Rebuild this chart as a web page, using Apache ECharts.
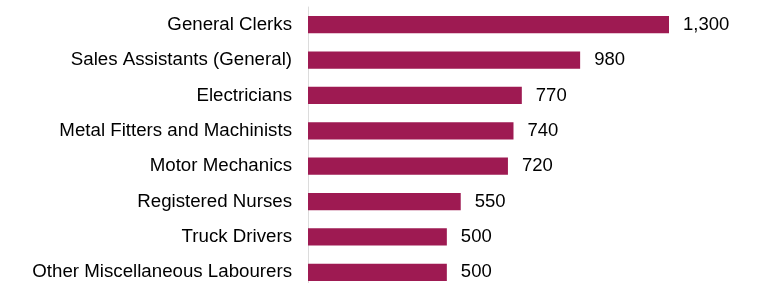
<!DOCTYPE html>
<html>
<head>
<meta charset="utf-8">
<script src="https://cdn.jsdelivr.net/npm/echarts@6/dist/echarts.min.js"></script>
<style>
html,body{margin:0;padding:0;background:#fff;}
#c{width:764px;height:283px;}
</style>
</head>
<body>
<div id="c"></div>
<script>
var categories = ["General Clerks","Sales Assistants (General)","Electricians","Metal Fitters and Machinists","Motor Mechanics","Registered Nurses","Truck Drivers","Other Miscellaneous Labourers"];
var values = [1300, 980, 770, 740, 720, 550, 500, 500];

var chart = echarts.init(document.getElementById('c'), null, {renderer:'canvas'});
chart.setOption({
  animation: false,
  textStyle: {fontFamily: 'Liberation Sans, Arial, sans-serif'},
  grid: {left: 308, right: 95, top: 7, bottom: -7, containLabel: false, outerBoundsMode: 'none'},
  xAxis: {
    type: 'value', min: 0, max: 1300,
    show: false
  },
  yAxis: {
    type: 'category', inverse: true, data: categories,
    axisLine: {show: true, lineStyle: {color: '#dcdcdc', width: 1}},
    axisTick: {show: false},
    axisLabel: {color: '#000', fontSize: 18.7, margin: 16, fontFamily: 'Liberation Sans, Arial, sans-serif'}
  },
  series: [{
    type: 'bar',
    data: values,
    barWidth: 17.3,
    itemStyle: {color: '#9e1a52'},
    label: {
      show: true, position: 'right', distance: 14,
      color: '#000', fontSize: 18.5, fontFamily: 'Liberation Sans, Arial, sans-serif',
      formatter: function(p){ return p.value.toLocaleString('en-US'); }
    }
  }]
});
</script>
</body>
</html>
